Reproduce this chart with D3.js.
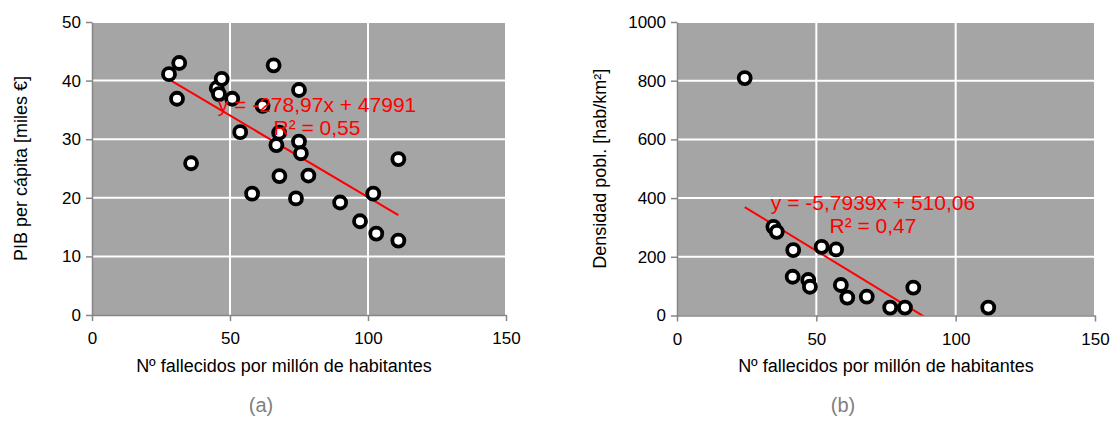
<!DOCTYPE html>
<html>
<head>
<meta charset="utf-8">
<script src="https://cdn.jsdelivr.net/npm/d3@7"></script>
<style>
  body { margin: 0; background: #fff; }
  svg { font-family: "Liberation Sans", Arial, sans-serif; }
  .grid line { stroke: #fff; stroke-width: 2; }
  .axis path, .axis line { stroke: #868686; stroke-width: 1.5; }
  .axis text { fill: #000; font-size: 17px; }
</style>
</head>
<body>
<svg id="chart" width="1115" height="425"></svg>
<script>
// (a) fallecidos por millon vs PIB per capita (miles de euros)
var fallecidosA = [27.9, 31.6, 30.8, 35.9, 45.2, 47.0, 46.0, 50.8, 53.7, 58.0, 61.8, 65.8, 66.8,
    67.8, 67.9, 73.9, 75.0, 75.0, 75.7, 78.4, 89.9, 97.1, 101.9, 103.0, 111.0, 111.0];
var pibA = [41.1, 43.0, 36.9, 25.9, 38.7, 40.3, 37.7, 36.9, 31.2, 20.7, 35.7, 42.6, 29.0,
    31.1, 23.7, 19.9, 38.4, 29.6, 27.6, 23.8, 19.2, 16.0, 20.7, 13.9, 26.6, 12.7];
var trendA = { slope: -278.97, intercept: 47991, r2: "0,55", label: "y = -278,97x + 47991" };

// (b) fallecidos por millon vs densidad de poblacion
var fallecidosB = [24.3, 34.6, 35.8, 41.7, 51.9, 57.1, 41.5, 47.1, 47.7, 58.8, 61.1, 68.1,
    76.5, 81.8, 84.8, 111.7];
var densidadB = [809, 302, 285, 223, 234, 225, 132, 121, 98, 104, 61, 64,
    27, 27, 95, 27];
var trendB = { slope: -5.7939, intercept: 510.06, r2: "0,47", label: "y = -5,7939x + 510,06" };

var xTicks = [0, 50, 100, 150];
var yTicksA = [0, 10, 20, 30, 40, 50];
var yTicksB = [0, 200, 400, 600, 800, 1000];

var svg = d3.select("#chart");

function draw_panel(opts) {
    var xScale = d3.scaleLinear().domain([0, 150]).range([opts.left, opts.right]);
    var yScale = d3.scaleLinear().domain([0, opts.ymax]).range([opts.bottom, opts.top]);

    var g = svg.append("g");

    g.append("rect")
        .attr("x", opts.left).attr("y", opts.top)
        .attr("width", opts.right - opts.left)
        .attr("height", opts.bottom - opts.top)
        .attr("fill", "#a5a5a5");

    // gridlines
    g.append("g").attr("class", "grid")
        .selectAll("line.h").data(opts.yTicks.slice(1)).enter().append("line")
        .attr("x1", opts.left).attr("x2", opts.right)
        .attr("y1", function (d) { return yScale(d); })
        .attr("y2", function (d) { return yScale(d); });
    g.append("g").attr("class", "grid")
        .selectAll("line.v").data(xTicks.slice(1)).enter().append("line")
        .attr("y1", opts.top).attr("y2", opts.bottom)
        .attr("x1", function (d) { return xScale(d); })
        .attr("x2", function (d) { return xScale(d); });

    g.append("g")
        .attr("class", "axis")
        .attr("transform", "translate(0," + opts.bottom + ")")
        .call(d3.axisBottom(xScale).tickValues(xTicks).tickFormat(d3.format("d"))
            .tickSize(6).tickSizeOuter(0).tickPadding(11))
        .call(function (a) { a.selectAll("text").attr("font-family", null).attr("font-size", null); });

    g.append("g")
        .attr("class", "axis")
        .attr("transform", "translate(" + opts.left + ",0)")
        .call(d3.axisLeft(yScale).tickValues(opts.yTicks).tickFormat(d3.format("d"))
            .tickSize(6).tickSizeOuter(0).tickPadding(5))
        .call(function (a) { a.selectAll("text").attr("font-family", null).attr("font-size", null); });

    var clipId = "clip" + opts.name;
    svg.append("clipPath").attr("id", clipId).append("rect")
        .attr("x", opts.left).attr("y", opts.top)
        .attr("width", opts.right - opts.left)
        .attr("height", opts.bottom - opts.top);

    var data = opts.xs.map(function (x, i) { return { x: x, y: opts.ys[i] }; });

    // trend line
    var xmin = d3.min(opts.xs), xmax = d3.max(opts.xs);
    var trendPts = [xmin, xmax].map(function (x) {
        return { x: x, y: (opts.trend.slope * x + opts.trend.intercept) / opts.yDiv };
    });
    g.append("path")
        .datum(trendPts)
        .attr("clip-path", "url(#" + clipId + ")")
        .attr("fill", "none")
        .attr("stroke", "#ff0000")
        .attr("stroke-width", 2)
        .attr("d", d3.line()
            .x(function (d) { return xScale(d.x); })
            .y(function (d) { return yScale(d.y); }));

    g.selectAll(".dot")
        .data(data)
        .enter().append("circle")
        .attr("class", "dot")
        .attr("cx", function (d) { return xScale(d.x); })
        .attr("cy", function (d) { return yScale(d.y); })
        .attr("r", 6)
        .attr("fill", "#fff")
        .attr("stroke", "#000")
        .attr("stroke-width", 3.8);

    // equation
    var eq = g.append("text")
        .attr("text-anchor", "middle")
        .attr("fill", "#ff0000")
        .style("font-size", "21px");
    eq.append("tspan").attr("x", opts.eqX).attr("y", opts.eqY).text(opts.trend.label);
    eq.append("tspan").attr("x", opts.eqX).attr("y", opts.eqY + 23).text("R² = " + opts.trend.r2);

    // axis titles
    g.append("text")
        .attr("x", opts.xTitleX)
        .attr("y", 372)
        .attr("text-anchor", "middle")
        .style("font-size", "18px")
        .text("Nº fallecidos por millón de habitantes");

    g.append("text")
        .attr("transform", "translate(" + opts.yTitleX + "," + ((opts.top + opts.bottom) / 2) + ") rotate(-90)")
        .attr("text-anchor", "middle")
        .style("font-size", "18px")
        .text(opts.yTitle);

    g.append("text")
        .attr("x", opts.capX)
        .attr("y", 412)
        .attr("text-anchor", "middle")
        .attr("fill", "#808080")
        .style("font-size", "20px")
        .text(opts.caption);
}

draw_panel({
    name: "a", left: 92, right: 506, top: 22, bottom: 315, ymax: 50,
    xs: fallecidosA, ys: pibA, yTicks: yTicksA, yDiv: 1000, trend: trendA,
    eqX: 317, eqY: 112, xTitleX: 284, yTitle: "PIB per cápita [miles €]", yTitleX: 27,
    capX: 261, caption: "(a)"
});

draw_panel({
    name: "b", left: 677, right: 1095, top: 22, bottom: 315.5, ymax: 1000,
    xs: fallecidosB, ys: densidadB, yTicks: yTicksB, yDiv: 1, trend: trendB,
    eqX: 873, eqY: 210, xTitleX: 886, yTitle: "Densidad pobl. [hab/km²]", yTitleX: 606,
    capX: 843, caption: "(b)"
});
</script>
</body>
</html>
